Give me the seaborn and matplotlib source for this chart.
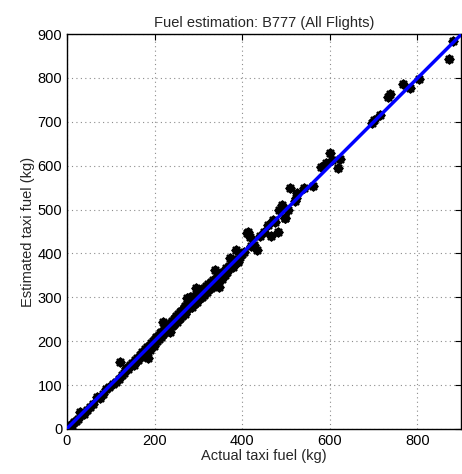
import numpy as np
import pandas as pd
import matplotlib
matplotlib.use("Agg")
import matplotlib.pyplot as plt
import seaborn as sns

# ------------------------------------------------------------------
# Data (kg)
# ------------------------------------------------------------------
actual_fuel = [
    0, 3, 6, 8, 12, 15, 20, 25, 30, 38,
    45, 52, 60, 68, 75, 82, 90, 97, 105, 112,
    118, 121, 125, 130, 135, 140, 144, 148, 152, 155,
    158, 160, 163, 166, 170, 172, 175, 178, 180, 182,
    185, 185, 188, 190, 192, 195, 197, 199, 200, 202,
    204, 206, 208, 210, 212, 214, 215, 217, 219, 220,
    222, 224, 226, 228, 230, 232, 233, 235, 237, 239,
    240, 242, 244, 245, 247, 249, 250, 252, 254, 255,
    257, 259, 260, 262, 264, 265, 267, 269, 270, 272,
    274, 275, 277, 279, 280, 282, 284, 285, 287, 289,
    290, 292, 294, 295, 297, 299, 300, 302, 304, 306,
    308, 310, 312, 314, 316, 318, 320, 322, 325, 328,
    330, 333, 335, 337, 340, 342, 345, 348, 350, 353,
    356, 360, 363, 366, 370, 373, 376, 380, 384, 387,
    390, 395, 400, 405, 410, 413, 417, 420, 428, 433,
    440, 450, 460, 467, 470, 475, 481, 485, 490, 492,
    497, 499, 505, 510, 520, 524, 526, 542, 561, 581,
    592, 601, 606, 620, 624, 697, 700, 715, 734, 738,
    768, 784, 804, 873, 882,
]
estimated_fuel = [
    2, 0, 8, 5, 10, 17, 18, 22, 39, 35,
    43, 50, 58, 72, 70, 80, 92, 95, 103, 108,
    115, 153, 122, 128, 138, 136, 146, 150, 146, 158,
    155, 162, 158, 168, 165, 175, 170, 182, 176, 186,
    162, 183, 190, 180, 195, 192, 200, 190, 205, 198,
    210, 200, 213, 206, 218, 210, 222, 214, 244, 216,
    228, 220, 232, 224, 236, 228, 240, 221, 242, 234,
    246, 236, 250, 240, 254, 246, 258, 244, 262, 250,
    266, 252, 268, 258, 272, 262, 276, 262, 280, 268,
    284, 298, 288, 276, 300, 280, 294, 278, 296, 284,
    302, 288, 298, 321, 290, 306, 296, 312, 298, 316,
    300, 318, 306, 322, 310, 326, 312, 330, 318, 334,
    322, 340, 326, 362, 332, 346, 338, 324, 350, 342,
    358, 350, 366, 358, 372, 390, 378, 370, 386, 408,
    380, 392, 398, 404, 447, 449, 437, 418, 419, 408,
    440, 448, 466, 440, 476, 472, 449, 499, 506, 510,
    481, 480, 500, 549, 520, 526, 538, 549, 554, 597,
    606, 629, 613, 595, 615, 697, 704, 715, 757, 763,
    786, 777, 797, 843, 885,
]

# fitted line end points
fit_x = [0, 900]
fit_y = [1, 899]

x_ticks = [0, 200, 400, 600, 800]
y_ticks = [0, 100, 200, 300, 400, 500, 600, 700, 800, 900]

df = pd.DataFrame({"actual": actual_fuel, "estimated": estimated_fuel})
fit_df = pd.DataFrame({"x": fit_x, "y": fit_y})

# ------------------------------------------------------------------
# Plot
# ------------------------------------------------------------------
sns.set_style("white")
plt.rcParams["font.family"] = ["Liberation Sans", "DejaVu Sans"]

fig = plt.figure(figsize=(4.62, 4.74), dpi=100)
ax = fig.add_axes([0.145, 0.095, 0.853, 0.833])

# thick asterisks (matlab style '*') look like small blobs
sns.scatterplot(data=df, x="actual", y="estimated", ax=ax, marker=(8, 2, 0),
                color="black", linewidth=2.1, s=26, zorder=2)
sns.lineplot(data=fit_df, x="x", y="y", ax=ax, color="#0000ff", linewidth=2.5, zorder=3)

ax.set_xlim(0, 900)
ax.set_ylim(0, 900)
ax.set_xticks(x_ticks)
ax.set_yticks(y_ticks)
ax.grid(True, linestyle=(0, (1, 3)), color="0.55", linewidth=0.8)
ax.tick_params(direction="in", length=4, width=0.8, top=True, right=True,
               labelsize=10.5, colors="black")
for sp in ax.spines.values():
    sp.set_linewidth(1.0)
    sp.set_color("black")

ax.set_title("Fuel estimation: B777 (All Flights)", fontsize=10.5, pad=5)
ax.set_xlabel("Actual taxi fuel (kg)", fontsize=10.5, labelpad=1)
ax.set_ylabel("Estimated taxi fuel (kg)", fontsize=10.5, labelpad=2)

fig.savefig("out.png", dpi=100)
